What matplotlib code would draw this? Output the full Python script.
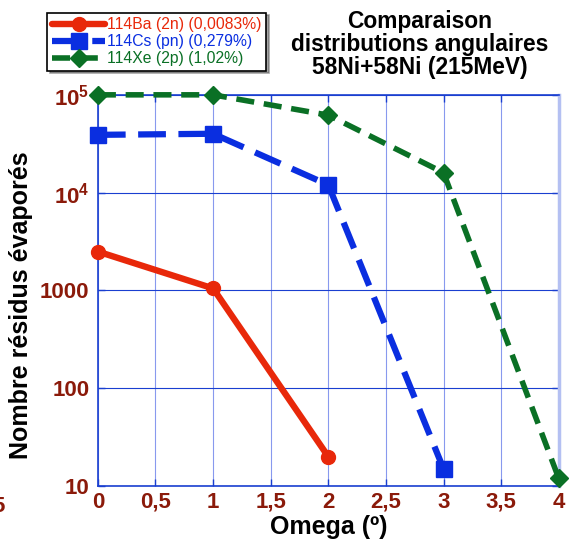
import matplotlib
matplotlib.use("Agg")
import matplotlib.pyplot as plt
from matplotlib.ticker import FixedLocator, FixedFormatter

plt.rcParams['font.family'] = ['Liberation Sans', 'DejaVu Sans']
plt.rcParams['mathtext.fontset'] = 'custom'
plt.rcParams['mathtext.rm'] = 'Liberation Sans:bold'
plt.rcParams['mathtext.bf'] = 'Liberation Sans:bold'
plt.rcParams['lines.scale_dashes'] = False

# Data
omega_ba = [0, 1, 2]
ba = [2500, 1050, 20]
omega_cs = [0, 1, 2, 3]
cs = [39000, 40000, 12000, 15]
omega_xe = [0, 1, 2, 3, 4]
xe = [100000, 100000, 62000, 16000, 12]

labels = ['114Ba (2n) (0,0083%)', '114Cs (pn) (0,279%)', '114Xe (2p) (1,02%)']
xticks = [0, 0.5, 1, 1.5, 2, 2.5, 3, 3.5, 4]
xticklabels = ['0', '0,5', '1', '1,5', '2', '2,5', '3', '3,5', '4']
yticks = [10, 100, 1000, 1e4, 1e5]
yticklabels = ['10', '100', '1000', r'$10^{4}$', r'$10^{5}$']

red = '#e8280a'
blue = '#0a2ee0'
green = '#0a7025'
tickcol = '#8b1a0a'
axcol = '#1a3fd0'
lightcol = '#b4c0f2'

fig = plt.figure(figsize=(5.69, 5.45), dpi=100)
ax = fig.add_axes([0.172, 0.108, 0.810, 0.718])

l1, = ax.plot(omega_ba, ba, color=red, lw=4.6, marker='o', ms=10, solid_capstyle='round',
              clip_on=False, zorder=5)
l2, = ax.plot(omega_cs, cs, color=blue, lw=4.5, marker='s', ms=11, dashes=(20, 9),
              clip_on=False, zorder=5)
l3, = ax.plot(omega_xe, xe, color=green, lw=4.0, marker='D', ms=9, dashes=(13, 7),
              clip_on=False, zorder=5)

ax.set_yscale('log')
ax.set_xlim(0, 4)
ax.set_ylim(10, 1e5)
ax.xaxis.set_major_locator(FixedLocator(xticks))
ax.xaxis.set_major_formatter(FixedFormatter(xticklabels))
ax.yaxis.set_major_locator(FixedLocator(yticks))
ax.yaxis.set_major_formatter(FixedFormatter(yticklabels))
ax.yaxis.set_minor_locator(FixedLocator([]))

ax.grid(True, axis='x', color='#8899ee', lw=0.8)
ax.grid(True, axis='y', color=axcol, lw=0.8)
ax.set_axisbelow(True)
for name, s in ax.spines.items():
    s.set_color(axcol)
    s.set_linewidth(1.2)
ax.spines['right'].set_color(lightcol)
ax.spines['right'].set_linewidth(2.5)

ax.tick_params(axis='both', direction='in', colors=axcol, length=5, width=1,
               top=True, right=True, labelsize=16)
for lab in ax.get_xticklabels() + ax.get_yticklabels():
    lab.set_color(tickcol)
    lab.set_fontweight('bold')
ax.tick_params(axis='x', pad=4)
ax.tick_params(axis='y', pad=6)

ax.set_xlabel('Omega (º)', fontsize=18, fontweight='bold', labelpad=2)
ax.set_ylabel('Nombre résidus évaporés', fontsize=18, fontweight='bold')
ax.yaxis.set_label_coords(-0.141, 0.463)

fig.text(0.737, 0.981, 'Comparaison\ndistributions angulaires\n58Ni+58Ni (215MeV)',
         ha='center', va='top', fontsize=16.4, fontweight='bold', linespacing=1.0)

fig.text(5 / 569, 1 - 507 / 545, '5', ha='right', va='center', fontsize=16,
         fontweight='bold', color=tickcol)

leg = fig.legend([l1, l2, l3], labels, loc='upper left', bbox_to_anchor=(0.083, 0.977),
                 fontsize=11.3, frameon=True, fancybox=False, shadow=True,
                 handlelength=3.4, handletextpad=0.1, labelspacing=0.12,
                 borderpad=0.3, borderaxespad=0)
leg.get_frame().set_edgecolor('black')
leg.get_frame().set_linewidth(1.2)
for t, c in zip(leg.get_texts(), [red, blue, green]):
    t.set_color(c)

fig.savefig('out.png', dpi=100)
